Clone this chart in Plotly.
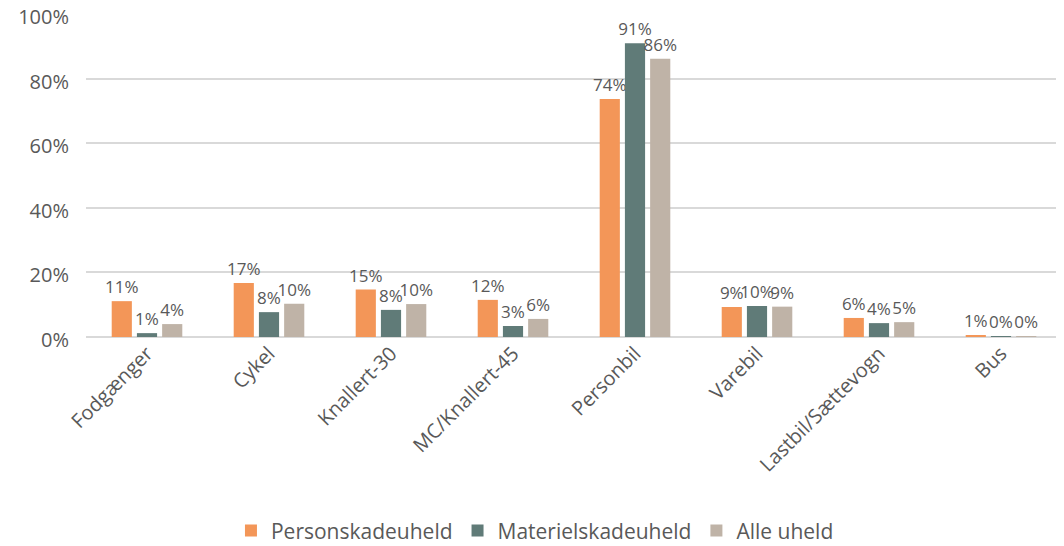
import plotly.graph_objects as go

categories = ["Fodgænger", "Cykel", "Knallert-30", "MC/Knallert-45", "Personbil",
              "Varebil", "Lastbil/Sættevogn", "Bus"]
personskade = [0.111, 0.167, 0.147, 0.115, 0.737, 0.093, 0.059, 0.006]
materielskade = [0.012, 0.077, 0.084, 0.034, 0.910, 0.096, 0.043, 0.003]
alle = [0.040, 0.103, 0.102, 0.056, 0.862, 0.094, 0.046, 0.003]
y_ticks = [0, 0.2, 0.4, 0.6, 0.8, 1.0]
y_tick_labels = ["0%", "20%", "40%", "60%", "80%", "100%"]

series = [
    ("Personskadeuheld", personskade, "#F39658"),
    ("Materielskadeuheld", materielskade, "#607B78"),
    ("Alle uheld", alle, "#BFB3A7"),
]

font_family = "Open Sans, Lato, sans-serif"
grey = "#595959"

fig = go.Figure()
for name, vals, col in series:
    fig.add_trace(go.Bar(
        x=categories, y=vals, name=name, marker_color=col,
        marker_line_width=0,
        texttemplate="%{y:.0%}", textposition="outside",
        constraintext="none",
        textfont=dict(size=17, color=grey, family=font_family),
        outsidetextfont=dict(size=17, color=grey, family=font_family),
        cliponaxis=False,
    ))

# page body has an 8px margin, so the figure is sized 1056x538
fig.update_layout(
    width=1056, height=538,
    margin=dict(l=78, r=2, t=6, b=209, autoexpand=False),
    paper_bgcolor="white", plot_bgcolor="white",
    barmode="group", bargap=0.38, bargroupgap=0.2,
    font=dict(family=font_family, color=grey, size=18),
    legend=dict(orientation="h", x=0.46, xanchor="center", y=-0.60, yanchor="middle",
                font=dict(size=21, color=grey), itemwidth=30, traceorder="normal"),
)
fig.update_yaxes(range=[0, 1.0005], tickvals=y_ticks, ticktext=y_tick_labels,
                 showgrid=True, ticklabeloverflow="allow", ticklabelshift=3,
                 gridcolor="#D9D9D9", gridwidth=1.5, zeroline=True,
                 zerolinecolor="#D9D9D9", zerolinewidth=1.5, automargin=False,
                 tickfont=dict(size=20, color=grey), ticks="", ticklabelstandoff=16)
fig.update_xaxes(tickangle=-45, tickfont=dict(size=20, color=grey), showline=False,
                 ticks="", automargin=False)

fig.write_html("out.html")
